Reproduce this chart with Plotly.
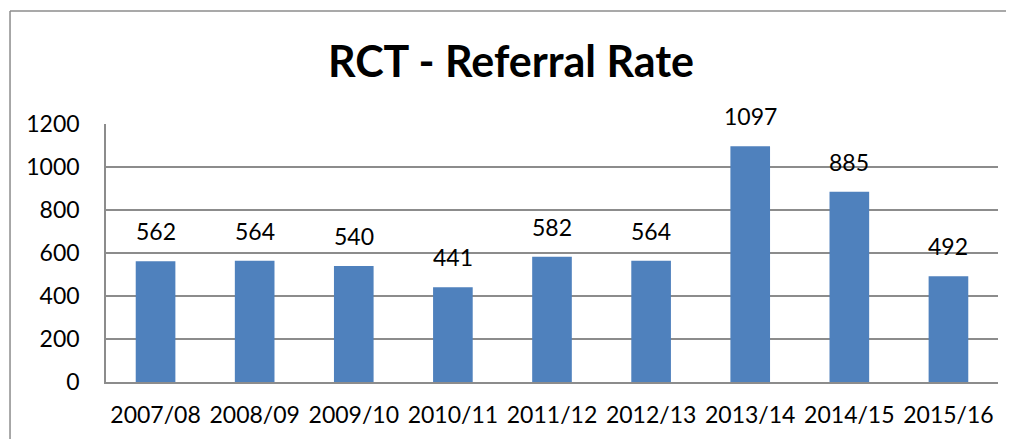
import plotly.graph_objects as go

categories = ["2007/08", "2008/09", "2009/10", "2010/11", "2011/12", "2012/13", "2013/14", "2014/15", "2015/16"]
values = [562, 564, 540, 441, 582, 564, 1097, 885, 492]
y_ticks = [0, 200, 400, 600, 800, 1000, 1200]

FONT = "Lato"
GRID = "#8c8c8c"

fig = go.Figure(go.Bar(
    x=categories, y=values,
    marker=dict(color="#4F81BD", line=dict(width=0)),
))

annotations = [
    dict(x=c, y=v, xref="x", yref="y", text=str(v), showarrow=False,
         yanchor="bottom", yshift=14,
         font=dict(family=FONT, size=23, color="#000000"))
    for c, v in zip(categories, values)
]

frame = dict(color="#8c8c8c", width=1.5)

fig.update_layout(
    width=1006, height=431,
    margin=dict(l=98, r=16, t=116, b=57),
    paper_bgcolor="white", plot_bgcolor="white",
    showlegend=False,
    bargap=0.6,
    title=dict(text="<b>RCT - Referral Rate</b>", x=0.5, xanchor="center",
               y=0.875, yanchor="middle",
               font=dict(family=FONT, size=43, color="#000000")),
    xaxis=dict(showgrid=False, showline=True, linecolor=GRID, linewidth=1.5,
               tickfont=dict(family=FONT, size=23, color="#000000"),
               ticks="", ticklabelstandoff=12),
    yaxis=dict(range=[0, 1200], tickvals=y_ticks, showgrid=True, gridcolor=GRID, gridwidth=1.5,
               showline=True, linecolor=GRID, linewidth=1.5, zeroline=False,
               tickfont=dict(family=FONT, size=23, color="#000000"),
               ticks="", ticklabelstandoff=20),
    annotations=annotations,
    shapes=[
        dict(type="line", xref="paper", yref="paper",
             x0=-0.1076, x1=-0.1076, y0=-0.5, y1=1.438, line=frame, layer="below"),
        dict(type="line", xref="paper", yref="paper",
             x0=-0.1076, x1=1.0179, y0=1.438, y1=1.438, line=frame, layer="below"),
    ],
    font=dict(family=FONT),
)

fig.write_html("out.html")
